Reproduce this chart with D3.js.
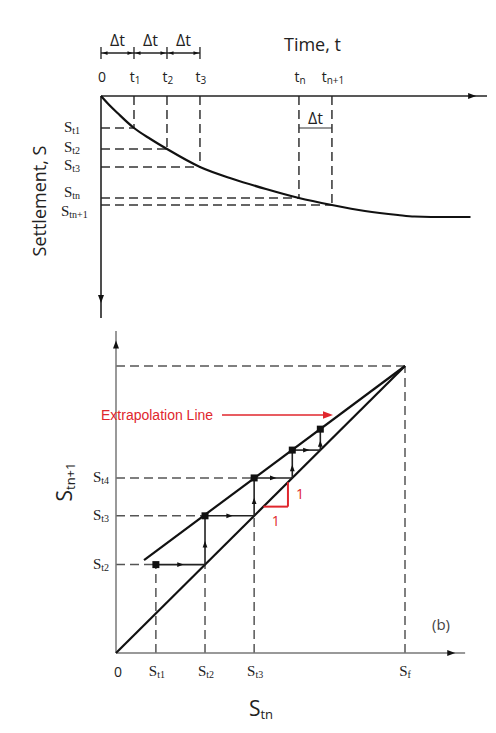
<!DOCTYPE html>
<html>
<head>
<meta charset="utf-8">
<script src="https://cdn.jsdelivr.net/npm/d3@7"></script>
<style>
  body { margin: 0; background: #fff; }
  text { font-family: "Open Sans", sans-serif; fill: #222; }
  text.serif { font-family: "Liberation Serif", "DejaVu Serif", serif; }
</style>
</head>
<body>
<script>
// ---- data (a) settlement vs time ----
var timeTicks = [0, 1, 2, 3, 6, 7];
var timeSubs = ["", "1", "2", "3", "n", "n+1"];
var curveTime = [0, 0.25, 0.5, 1, 1.5, 2, 3, 4, 5, 6, 7, 8, 9, 9.5, 10.5, 11.2];
var curveSettle = [0, 9, 17, 32, 43, 53, 71, 83, 93, 102, 109, 115, 119, 120.5, 121, 121];
var settleTicks = [32, 53, 71, 102, 109];
var settleSubs = ["t1", "t2", "t3", "tn", "tn+1"];

// ---- data (b) S(tn+1) vs S(tn) ----
var stepS = [13.8, 30.8, 47.8, 61, 70.7, 78];
var stepXSubs = ["t1", "t2", "t3"];
var stepYSubs = ["t2", "t3", "t4"];
var sFinal = 100;
var extrapIntercept = 25.1;
var extrapSlope = 0.749;
var extrapStart = 9.7;
var unitLegs = [51, 59.5];

var W = 496, H = 733;
var svg = d3.select("body").append("svg")
	.attr("width", W)
	.attr("height", H);

svg.append("rect").attr("width", W).attr("height", H).attr("fill", "#fff");

// small filled arrow head, pointing along angle (degrees)
function arrowHead(g, x, y, angle, size, color) {
	var s = size || 4;
	g.append("path")
		.attr("d", "M" + (-s) + "," + (-s * 0.75) + " L" + s + ",0 L" + (-s) + "," + (s * 0.75) + " Z")
		.attr("transform", "translate(" + x + "," + y + ") rotate(" + angle + ")")
		.attr("fill", color || "#111");
}

// S with subscript
function subLabel(g, x, y, base, sub, size, subSize, anchor) {
	var t = g.append("text")
		.attr("x", x)
		.attr("y", y)
		.attr("font-size", size)
		.attr("text-anchor", anchor || "middle");
	t.append("tspan").text(base);
	if (sub) t.append("tspan").attr("font-size", subSize).attr("dy", size * 0.15).text(sub);
	return t;
}

// =================== panel (a) ===================
var xT = d3.scaleLinear().domain([0, 11.7]).range([101, 487]);
var yT = d3.scaleLinear().domain([0, 222]).range([96, 318]);
var panelA = svg.append("g");
var dash = "9,5";

// dashed guides
settleTicks.forEach(function (s, i) {
	var t = timeTicks[i + 1];
	panelA.append("line")
		.attr("x1", xT(t)).attr("x2", xT(t))
		.attr("y1", yT(0)).attr("y2", yT(s))
		.attr("stroke", "#333").attr("stroke-width", 1.5).attr("stroke-dasharray", dash);
	panelA.append("line")
		.attr("x1", xT(0)).attr("x2", xT(t))
		.attr("y1", yT(s)).attr("y2", yT(s))
		.attr("stroke", "#333").attr("stroke-width", 1.5).attr("stroke-dasharray", dash);
});

// axes
panelA.append("line")
	.attr("x1", xT(0)).attr("x2", xT(11.7))
	.attr("y1", yT(0)).attr("y2", yT(0))
	.attr("stroke", "#222").attr("stroke-width", 1.6);
arrowHead(panelA, xT(11.25), yT(0), 0, 4);
panelA.append("line")
	.attr("x1", xT(0)).attr("x2", xT(0))
	.attr("y1", yT(0)).attr("y2", yT(222))
	.attr("stroke", "#222").attr("stroke-width", 1.6);
arrowHead(panelA, xT(0), yT(203), 90, 4);

// settlement curve
var line = d3.line()
	.x(function (d) { return xT(d[0]); })
	.y(function (d) { return yT(d[1]); })
	.curve(d3.curveMonotoneX);
panelA.append("path")
	.datum(d3.zip(curveTime, curveSettle))
	.attr("d", line)
	.attr("fill", "none")
	.attr("stroke", "#111")
	.attr("stroke-width", 2.2);

// time tick labels
timeTicks.forEach(function (t, i) {
	subLabel(panelA, xT(t) + 1, 82, t === 0 ? "0" : "t", timeSubs[i], 14, 10, "middle");
});

// delta t brackets
var by = 53;
panelA.append("line")
	.attr("x1", xT(0)).attr("x2", xT(3))
	.attr("y1", by).attr("y2", by)
	.attr("stroke", "#222").attr("stroke-width", 1.3);
[0, 1, 2, 3].forEach(function (t) {
	panelA.append("line")
		.attr("x1", xT(t)).attr("x2", xT(t))
		.attr("y1", by - 6).attr("y2", by + 6)
		.attr("stroke", "#222").attr("stroke-width", 1.3);
	if (t < 3) {
		arrowHead(panelA, xT(t) + 4, by, 180, 2.5);
		arrowHead(panelA, xT(t + 1) - 4, by, 0, 2.5);
		panelA.append("text")
			.attr("x", xT(t + 0.5)).attr("y", 46)
			.attr("font-size", 16).attr("text-anchor", "middle")
			.text("\u0394t");
	}
});
panelA.append("line")
	.attr("x1", xT(6)).attr("x2", xT(7))
	.attr("y1", yT(32)).attr("y2", yT(32))
	.attr("stroke", "#333").attr("stroke-width", 1.2);
panelA.append("text")
	.attr("x", xT(6.5)).attr("y", 124)
	.attr("font-size", 16).attr("text-anchor", "middle")
	.text("\u0394t");

panelA.append("text")
	.attr("x", 284).attr("y", 51)
	.attr("font-size", 18)
	.text("Time, t");

// settlement tick labels
settleTicks.forEach(function (s, i) {
	var off = [4, 3, 3, -1, 11][i];
	subLabel(panelA, i === 4 ? 61 : 64, yT(s) + off, "S", settleSubs[i], 15, 10, "start")
		.attr("class", "serif");
});

panelA.append("text")
	.attr("transform", "translate(46,201) rotate(-90)")
	.attr("font-size", 18)
	.attr("text-anchor", "middle")
	.text("Settlement, S");

// =================== panel (b) ===================
var xB = d3.scaleLinear().domain([0, sFinal]).range([116, 405]);
var yB = d3.scaleLinear().domain([0, sFinal]).range([653, 366]);
var panelB = svg.append("g");
var gray = "#555";

function seg(g, x1, y1, x2, y2, color, w, dashed) {
	g.append("line")
		.attr("x1", xB(x1)).attr("y1", yB(y1))
		.attr("x2", xB(x2)).attr("y2", yB(y2))
		.attr("stroke", color).attr("stroke-width", w)
		.attr("stroke-dasharray", dashed ? dash : null);
}

// dashed guides
stepYSubs.forEach(function (sub, i) {
	seg(panelB, 0, stepS[i + 1], stepS[i], stepS[i + 1], gray, 1.5, true);
});
stepXSubs.forEach(function (sub, i) {
	var yTop = i === 0 ? stepS[1] : stepS[i];
	seg(panelB, stepS[i], 0, stepS[i], yTop, gray, 1.5, true);
});
seg(panelB, 0, sFinal, sFinal, sFinal, gray, 1.5, true);
seg(panelB, sFinal, 0, sFinal, sFinal, gray, 1.5, true);

// axes
seg(panelB, 0, 0, 120.8, 0, "#777", 1.5, false);
arrowHead(panelB, xB(116), yB(0), 0, 4);
seg(panelB, 0, 0, 0, 112.2, "#777", 1.5, false);
arrowHead(panelB, xB(0), yB(107.5), -90, 4);

// 1:1 line and extrapolation line
seg(panelB, 0, 0, sFinal, sFinal, "#111", 2.2, false);
seg(panelB, extrapStart, extrapIntercept + extrapSlope * extrapStart, sFinal,
	extrapIntercept + extrapSlope * sFinal, "#111", 2.2, false);

// staircase
for (var i = 0; i < 4; i++) {
	var a = stepS[i], b = stepS[i + 1], c = stepS[i + 2];
	seg(panelB, a, b, b, b, "#222", 1.6, false);
	arrowHead(panelB, (xB(a) + xB(b)) / 2, yB(b), 0, 3.2);
	seg(panelB, b, b, b, c, "#222", 1.6, false);
	arrowHead(panelB, xB(b), (yB(b) + yB(c)) / 2 + 4, -90, 3.2);
}
for (var j = 0; j < 5; j++) {
	panelB.append("rect")
		.attr("x", xB(stepS[j]) - 3.5).attr("y", yB(stepS[j + 1]) - 3.5)
		.attr("width", 7).attr("height", 7)
		.attr("fill", "#111");
}

// unit slope triangle
seg(panelB, unitLegs[0], unitLegs[0], unitLegs[1], unitLegs[0], "#e0262d", 2, false);
seg(panelB, unitLegs[1], unitLegs[0], unitLegs[1], unitLegs[1], "#e0262d", 2, false);
panelB.append("text")
	.attr("x", xB(unitLegs[1]) + 12).attr("y", yB((unitLegs[0] + unitLegs[1]) / 2) + 5)
	.attr("font-size", 14).attr("text-anchor", "middle")
	.style("fill", "#e0262d").text("1");
panelB.append("text")
	.attr("x", (xB(unitLegs[0]) + xB(unitLegs[1])) / 2).attr("y", yB(unitLegs[0]) + 19)
	.attr("font-size", 14).attr("text-anchor", "middle")
	.style("fill", "#e0262d").text("1");

// extrapolation label
panelB.append("text")
	.attr("x", 101).attr("y", 420)
	.attr("font-size", 14)
	.style("font-family", "'Liberation Sans', Arial, sans-serif")
	.style("fill", "#e0262d")
	.text("Extrapolation Line");
panelB.append("line")
	.attr("x1", 222).attr("x2", 326)
	.attr("y1", 415).attr("y2", 415)
	.attr("stroke", "#e0262d").attr("stroke-width", 1.5);
arrowHead(panelB, 328, 415, 0, 5, "#e0262d");

// tick labels
stepYSubs.forEach(function (sub, i) {
	subLabel(panelB, 109, yB(stepS[i + 1]) + 4, "S", sub, 15, 10, "end").attr("class", "serif");
});
panelB.append("text")
	.attr("x", 118).attr("y", 677)
	.attr("font-size", 14).attr("text-anchor", "middle")
	.text("0");
stepXSubs.forEach(function (sub, i) {
	subLabel(panelB, xB(stepS[i]) + 1, 676, "S", sub, 15, 10, "middle").attr("class", "serif");
});
subLabel(panelB, xB(sFinal), 676, "S", "f", 15, 10, "middle").attr("class", "serif");

subLabel(panelB, 261, 716, "S", "tn", 21, 13, "middle");
subLabel(panelB, 0, 0, "S", "tn+1", 21, 13, "middle")
	.attr("transform", "translate(72,482) rotate(-90)");

panelB.append("text")
	.attr("x", 441).attr("y", 630)
	.attr("font-size", 15).attr("text-anchor", "middle")
	.style("fill", "#444")
	.text("(b)");
</script>
</body>
</html>
